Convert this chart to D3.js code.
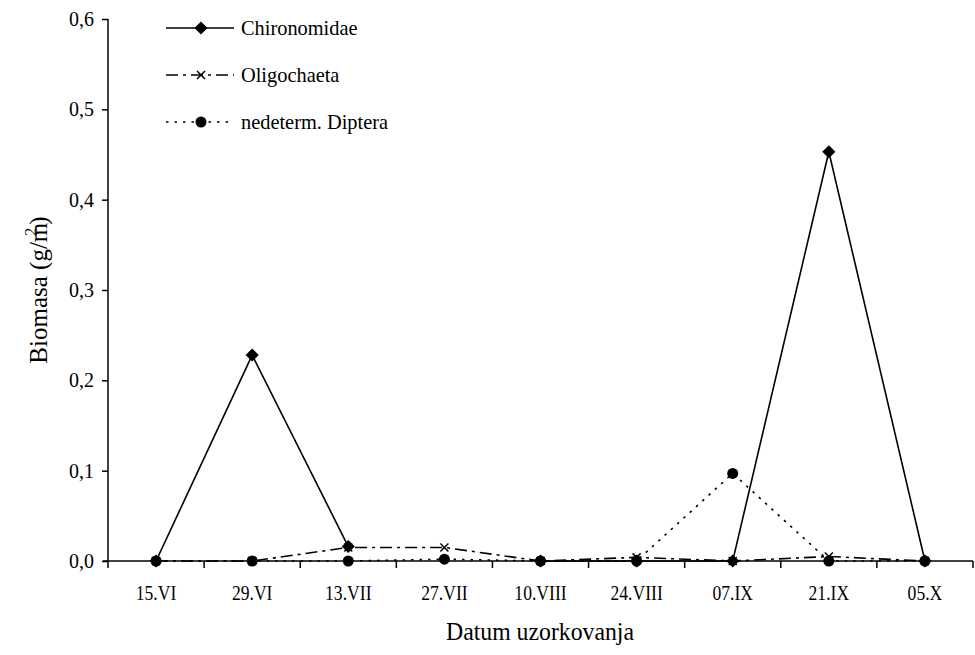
<!DOCTYPE html>
<html>
<head>
<meta charset="utf-8">
<script src="https://cdn.jsdelivr.net/npm/d3@7"></script>
<style>
  body { margin: 0; background: #fff; }
  svg text { font-family: "Liberation Serif", "Times New Roman", serif !important; fill: #000; }
</style>
</head>
<body>
<div id="chart"></div>
<script>
// sampling dates
const dates = ["15.VI", "29.VI", "13.VII", "27.VII", "10.VIII", "24.VIII", "07.IX", "21.IX", "05.X"];
// biomass values (g/m2)
const chironomidae = [0, 0.228, 0.016, null, 0, 0, 0, 0.453, 0];
const oligochaeta  = [0, 0, 0.015, 0.015, 0, 0.004, 0, 0.005, 0];
const diptera      = [0, 0, 0, 0.002, 0, 0, 0.097, 0, 0];
const yTicks = [0, 0.1, 0.2, 0.3, 0.4, 0.5, 0.6];

let width = 975, height = 655;

let svg = d3.select("#chart").append("svg")
    .attr("width", width)
    .attr("height", height)
    .attr("font-family", "Liberation Serif");

let x = d3.scaleBand().domain(dates).range([108, 973]);
let y = d3.scaleLinear().domain([0, 0.6]).range([561, 19]);
let fmt = d => d3.format(".1f")(d).replace(".", ",");

//series with their styles
let series = [
    {name: "Chironomidae", values: chironomidae, dash: null, marker: "diamond"},
    {name: "Oligochaeta", values: oligochaeta, dash: "12,5,3,5", marker: "cross"},
    {name: "nedeterm. Diptera", values: diptera, dash: "2.5,6", marker: "circle"}
];

//y axis
let yAxis = svg.append("g")
    .attr("transform", "translate(108,0)")
    .call(d3.axisLeft(y).tickValues(yTicks).tickFormat(fmt).tickSize(6).tickPadding(8));
yAxis.attr("font-family", null);
yAxis.select(".domain").attr("d", `M0,${y(0.6)}V${y(0)}`).attr("stroke-width", 1.5);
yAxis.selectAll(".tick line").attr("stroke-width", 1.5);
yAxis.selectAll("text").attr("font-size", 20);

//x axis, labels centred in each band, ticks on the band borders
let xAxis = svg.append("g")
    .attr("transform", "translate(0,561)")
    .call(d3.axisBottom(x).tickSize(0).tickPadding(23));
xAxis.attr("font-family", null);
xAxis.select(".domain").attr("d", `M103,0H973`).attr("stroke-width", 1.5);
xAxis.selectAll("text").attr("font-size", 22).attr("class", "squeeze");
let borders = dates.map(d => x(d)).concat([x.range()[1]]);
xAxis.selectAll(".border")
    .data(borders)
    .join("line")
    .attr("class", "border")
    .attr("x1", d => d).attr("x2", d => d)
    .attr("y1", 0).attr("y2", 7)
    .attr("stroke", "#000").attr("stroke-width", 1.5);

//axis titles
svg.append("text")
    .attr("class", "squeeze-t")
    .attr("x", 540).attr("y", 640)
    .attr("text-anchor", "middle")
    .attr("font-size", 25)
    .text("Datum uzorkovanja");

let yTitle = svg.append("text")
    .attr("transform", "translate(47,290) rotate(-90)")
    .attr("text-anchor", "middle")
    .attr("font-size", 25);
yTitle.append("tspan").text("Biomasa (g/m");
yTitle.append("tspan").attr("font-size", 16).attr("dy", -11).attr("dx", -13).text("2");
yTitle.append("tspan").attr("dy", 11).attr("dx", 3).text(")");

//marker drawing
function drawMarker(g, type) {
    if (type === "diamond") {
        g.append("path").attr("d", d3.symbol(d3.symbolDiamond2, 110)()).attr("fill", "#000");
    } else if (type === "circle") {
        g.append("circle").attr("r", 5.5).attr("fill", "#000");
    } else {
        g.append("path").attr("d", "M-4,-4L4,4M-4,4L4,-4").attr("stroke", "#000").attr("stroke-width", 1.5).attr("fill", "none");
    }
}

let cx = d => x(d) + x.bandwidth() / 2;
let line = d3.line()
    .defined(d => d.v !== null)
    .x(d => cx(d.date))
    .y(d => y(d.v));

series.forEach(s => {
    let pts = dates.map((d, i) => ({date: d, v: s.values[i]}));
    svg.append("path")
        .datum(pts)
        .attr("fill", "none")
        .attr("stroke", "#000")
        .attr("stroke-width", 1.6)
        .attr("stroke-dasharray", s.dash)
        .attr("d", line);
    pts.filter(p => p.v !== null).forEach(p => {
        let g = svg.append("g").attr("transform", `translate(${cx(p.date)},${y(p.v)})`);
        drawMarker(g, s.marker);
    });
});

//legend
let legend = svg.append("g");
series.forEach((s, i) => {
    let ly = 28 + i * 47;
    legend.append("line")
        .attr("x1", 166).attr("x2", 234)
        .attr("y1", ly).attr("y2", ly)
        .attr("stroke", "#000").attr("stroke-width", 1.6)
        .attr("stroke-dasharray", s.dash);
    let g = legend.append("g").attr("transform", `translate(201,${ly})`);
    drawMarker(g, s.marker);
    legend.append("text")
        .attr("class", "squeeze-l")
        .attr("x", 241).attr("y", ly)
        .attr("dy", "0.33em")
        .attr("font-size", 21)
        .text(s.name);
});

//condense text horizontally like the original
function squeeze(sel, f) {
    svg.selectAll(sel).each(function() {
        let len = this.getComputedTextLength();
        d3.select(this).attr("textLength", len * f).attr("lengthAdjust", "spacingAndGlyphs");
    });
}
squeeze(".squeeze", 0.8);
squeeze(".squeeze-l", 0.97);
squeeze(".squeeze-t", 0.95);
</script>
</body>
</html>
